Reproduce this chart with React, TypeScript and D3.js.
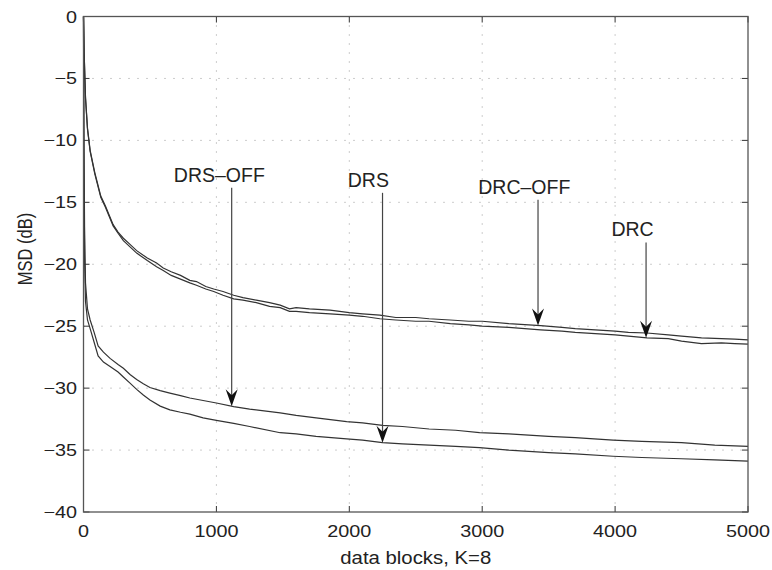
import React from "react";
import * as d3 from "d3";

const xTicks = [0, 1000, 2000, 3000, 4000, 5000];
const yTicks = [0, -5, -10, -15, -20, -25, -30, -35, -40];

const upperX = [0,5,15,30,50,85,130,165,223,260,300,350,400,480,550,600,660,730,800,850,920,980,1050,1130,1200,1300,1400,1480,1550,1600,1700,1855,2000,2100,2230,2350,2500,2600,2760,2900,3000,3200,3440,3600,3700,3850,4000,4100,4240,4400,4500,4650,4800,4900,5000];
const drcOff = [0,-3,-6.5,-9,-10.8,-12.6,-14.5,-15.3,-16.8,-17.4,-17.9,-18.4,-18.9,-19.5,-19.9,-20.3,-20.6,-20.9,-21.3,-21.4,-21.8,-22.0,-22.2,-22.5,-22.7,-22.9,-23.1,-23.3,-23.6,-23.5,-23.6,-23.7,-23.9,-24.0,-24.1,-24.3,-24.3,-24.4,-24.5,-24.6,-24.6,-24.8,-24.95,-25.1,-25.2,-25.3,-25.4,-25.5,-25.55,-25.7,-25.8,-25.95,-26.0,-26.05,-26.1];
const drc = [0,-3,-6.6,-9.1,-10.9,-12.7,-14.6,-15.4,-16.9,-17.5,-18.1,-18.6,-19.1,-19.7,-20.2,-20.5,-20.9,-21.2,-21.5,-21.7,-22.0,-22.2,-22.5,-22.8,-22.9,-23.1,-23.4,-23.5,-23.8,-23.8,-23.9,-24.0,-24.1,-24.2,-24.4,-24.5,-24.6,-24.6,-24.8,-24.9,-25.0,-25.1,-25.3,-25.4,-25.5,-25.6,-25.7,-25.8,-25.95,-26.0,-26.2,-26.4,-26.35,-26.4,-26.45];

const lowerX = [0,3,8,15,30,50,80,110,150,200,260,300,350,400,450,500,577,650,730,800,900,1000,1130,1250,1480,1600,1750,1980,2100,2250,2400,2600,2800,2980,3200,3500,3700,3985,4200,4500,4750,5000];
const drsOff = [0,-9,-17,-21.5,-23.6,-24.5,-25.5,-26.6,-27.1,-27.6,-28.1,-28.4,-28.9,-29.3,-29.65,-29.95,-30.2,-30.4,-30.6,-30.8,-31.0,-31.2,-31.5,-31.7,-32.0,-32.2,-32.4,-32.7,-32.8,-33.0,-33.1,-33.3,-33.4,-33.6,-33.7,-33.9,-34.0,-34.2,-34.3,-34.4,-34.6,-34.7];
const drs = [0,-11,-19.5,-23,-24.5,-25.2,-26.3,-27.4,-27.9,-28.25,-28.7,-29.1,-29.6,-30.1,-30.55,-30.95,-31.45,-31.75,-31.95,-32.1,-32.4,-32.6,-32.85,-33.1,-33.6,-33.7,-33.9,-34.1,-34.2,-34.4,-34.5,-34.6,-34.7,-34.8,-35.0,-35.2,-35.3,-35.5,-35.6,-35.7,-35.8,-35.9];

const annLabels = ["DRS\u2013OFF", "DRS", "DRC\u2013OFF", "DRC"];
const annLabelX = [1022, 2143, 3317, 4131];
const annLabelY = [-13.35, -13.75, -14.3, -17.75];
const annArrowX = [1115, 2250, 3420, 4233];
const annTarget = ["drsOff", "drs", "drcOff", "drc"];

const W = 772, H = 570;
const FONT = "'Liberation Sans', Arial, Helvetica, sans-serif";

export default function App() {
  const x = d3.scaleLinear().domain([0, 5000]).range([83.5, 748]);
  const y = d3.scaleLinear().domain([-40, 0]).range([512, 16.5]);
  const left = x(0), right = x(5000), top = y(0), bottom = y(-40);

  const series: Record<string, { xs: number[]; ys: number[] }> = {
    drcOff: { xs: upperX, ys: drcOff },
    drc: { xs: upperX, ys: drc },
    drsOff: { xs: lowerX, ys: drsOff },
    drs: { xs: lowerX, ys: drs },
  };
  const line = d3.line<[number, number]>().x((d) => x(d[0])).y((d) => y(d[1]));
  const valueAt = (key: string, xv: number) => {
    const s = series[key];
    const i = d3.bisectRight(s.xs, xv);
    const i0 = Math.max(0, i - 1), i1 = Math.min(s.xs.length - 1, i);
    if (i0 === i1) return s.ys[i0];
    const t = (xv - s.xs[i0]) / (s.xs[i1] - s.xs[i0]);
    return s.ys[i0] + t * (s.ys[i1] - s.ys[i0]);
  };

  const fmt = (v: number) => (v < 0 ? "\u2212" + Math.abs(v) : String(v));

  return (
    <svg width={W} height={H} style={{ position: "absolute", left: 0, top: 0, background: "#fff" }}>
      <rect x={0} y={0} width={W} height={H} fill="#fff" />
      {xTicks.slice(1, -1).map((t) => (
        <line key={"gx" + t} x1={x(t)} x2={x(t)} y1={top} y2={bottom} stroke="#9a9a9a" strokeWidth={1} strokeDasharray="1,8" />
      ))}
      {yTicks.slice(1, -1).map((t) => (
        <line key={"gy" + t} x1={left} x2={right} y1={y(t)} y2={y(t)} stroke="#9a9a9a" strokeWidth={1} strokeDasharray="1,8" />
      ))}
      {xTicks.map((t) => (
        <g key={"tx" + t}>
          <line x1={x(t)} x2={x(t)} y1={bottom} y2={bottom - 6} stroke="#333" />
          <line x1={x(t)} x2={x(t)} y1={top} y2={top + 6} stroke="#333" />
          <text transform={`translate(${x(t)},537) scale(1.2,1)`} textAnchor="middle" fontFamily={FONT} fontSize={16.5} fill="#222">{fmt(t)}</text>
        </g>
      ))}
      {yTicks.map((t) => (
        <g key={"ty" + t}>
          <line x1={left} x2={left + 6} y1={y(t)} y2={y(t)} stroke="#333" />
          <line x1={right} x2={right - 6} y1={y(t)} y2={y(t)} stroke="#333" />
          <text transform={`translate(77,${y(t) + 6}) scale(1.2,1)`} textAnchor="end" fontFamily={FONT} fontSize={16.5} fill="#222">{fmt(t)}</text>
        </g>
      ))}
      {Object.keys(series).map((k) => (
        <path key={k} d={line(series[k].xs.map((xv, i) => [xv, series[k].ys[i]]) as [number, number][]) || ""} fill="none" stroke="#333" strokeWidth={1.2} />
      ))}
      {annLabels.map((lab, i) => {
        const ax = x(annArrowX[i]);
        const tipY = y(valueAt(annTarget[i], annArrowX[i]));
        const startY = y(annLabelY[i]) + 6;
        return (
          <g key={lab}>
            <text x={x(annLabelX[i])} y={y(annLabelY[i])} textAnchor="middle" fontFamily={FONT} fontSize={19.5} fill="#222">{lab}</text>
            <line x1={ax} x2={ax} y1={startY} y2={tipY - 10} stroke="#444" strokeWidth={1.2} />
            <path d={`M${ax},${tipY} L${ax - 6},${tipY - 17} L${ax},${tipY - 11} L${ax + 6},${tipY - 17} Z`} fill="#111" />
          </g>
        );
      })}
      <rect x={left} y={top} width={right - left} height={bottom - top} fill="none" stroke="#555" strokeWidth={1.3} />
      <text transform={`translate(${(left + right) / 2},564) scale(1.1,1)`} textAnchor="middle" fontFamily={FONT} fontSize={18.5} fill="#222">data blocks, K=8</text>
      <text transform={`translate(32,249) rotate(-90) scale(1,1.2)`} textAnchor="middle" fontFamily={FONT} fontSize={16.5} fill="#222">MSD (dB)</text>
    </svg>
  );
}
